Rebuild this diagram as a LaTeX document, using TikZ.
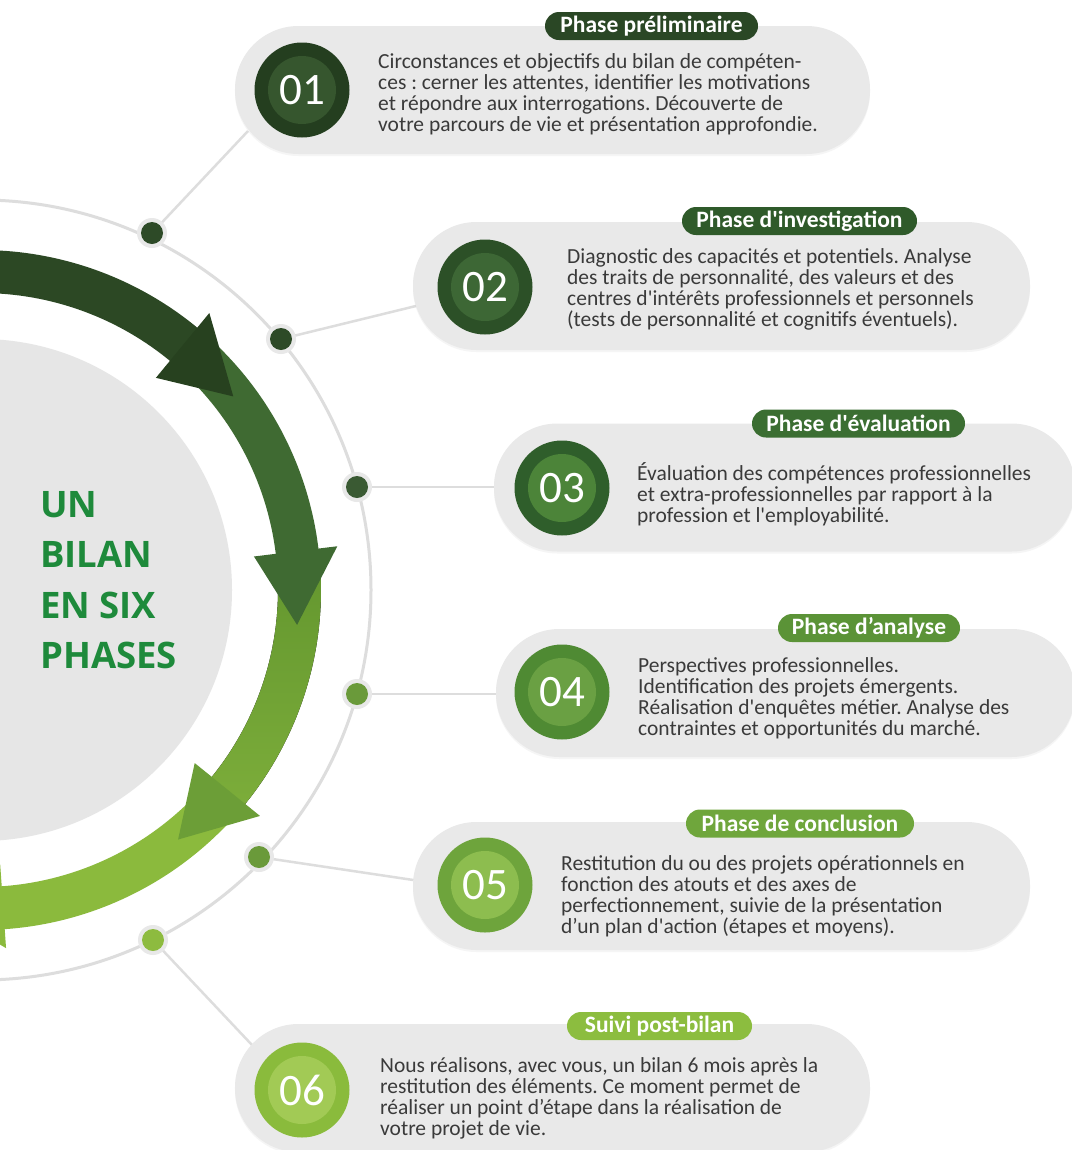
\documentclass[tikz,border=0pt]{standalone}
\usepackage{fontspec}
\setmainfont{Carlito}[Ligatures=TeXOff]
\newfontfamily\titlefont{Open Sans}
\usetikzlibrary{shadows}
\frenchspacing
\definecolor{panelgray}{HTML}{E9E9E9}
\definecolor{ringgray}{HTML}{DDDDDD}
\definecolor{halogray}{HTML}{E8E8E8}
\definecolor{discgray}{HTML}{E6E6E6}
\definecolor{txtgray}{HTML}{3A3A3A}
\definecolor{titlegreen}{HTML}{1E8A3B}
\definecolor{oA}{HTML}{243E1F}\definecolor{iA}{HTML}{36562E}
\definecolor{oB}{HTML}{2C5027}\definecolor{iB}{HTML}{3D6735}
\definecolor{oC}{HTML}{2F5E2B}\definecolor{iC}{HTML}{4C8439}
\definecolor{oD}{HTML}{4F8A33}\definecolor{iD}{HTML}{6AA043}
\definecolor{oE}{HTML}{6EA43C}\definecolor{iE}{HTML}{8DBD4F}
\definecolor{oF}{HTML}{8ABB3C}\definecolor{iF}{HTML}{A2CA55}
\definecolor{bA}{HTML}{2A4725}
\definecolor{bB}{HTML}{2F5A2A}
\definecolor{bC}{HTML}{3B6E32}
\definecolor{bD}{HTML}{5B9337}
\definecolor{bE}{HTML}{6FA63C}
\definecolor{bF}{HTML}{8CBD3F}
\definecolor{dA}{HTML}{2D4A27}
\definecolor{dC}{HTML}{3A5A33}
\definecolor{dD}{HTML}{6A9A3A}
\definecolor{dF}{HTML}{8DBB3F}
\definecolor{arA}{HTML}{2C4824}
\definecolor{ahA}{HTML}{27411F}
\definecolor{arB}{HTML}{3F6A32}
\definecolor{arC1}{HTML}{64972F}
\definecolor{arC2}{HTML}{7CAD3A}
\definecolor{ahC}{HTML}{6C9E37}
\definecolor{arD}{HTML}{8BBA3D}
\begin{document}
\begin{tikzpicture}[x=1bp,y=-1bp,
  panel/.style={rectangle, rounded corners=63.5bp, fill=panelgray, inner sep=0pt, minimum height=128bp,
    drop shadow={shadow xshift=0bp, shadow yshift=-2bp, opacity=0.08}},
  badge/.style={rectangle, rounded corners=14bp, minimum height=28bp, inner sep=0pt, text=white,
    font={\fontsize{23.5bp}{24bp}\selectfont\bfseries}},
  numout/.style={circle, minimum size=95bp, inner sep=0pt},
  numin/.style={circle, minimum size=68bp, inner sep=0pt, text=white, font={\fontsize{45bp}{45bp}\selectfont}},
  body/.style={anchor=west, align=left, inner sep=0pt, text=txtgray, font={\fontsize{21.5bp}{21bp}\selectfont}},
  ttl/.style={anchor=base west, inner sep=0pt, text=titlegreen, font={\titlefont\bfseries\fontsize{36.5bp}{36.5bp}\selectfont}},
  halo/.style={circle, fill=halogray, minimum size=30bp, inner sep=0pt},
  dotc/.style={circle, minimum size=22bp, inner sep=0pt},
  link/.style={draw=ringgray, line width=2.5bp},
]
\useasboundingbox (0,0) rectangle (1072,1150);
\fill[white] (0,0) rectangle (1072,1150);
\clip (0,0) rectangle (1072,1150);

% dot and link-end coordinates
\coordinate (d1) at (152,233);
\coordinate (d2) at (281,339);
\coordinate (d3) at (357,487);
\coordinate (d4) at (357,694);
\coordinate (d5) at (259,857);
\coordinate (d6) at (153,940);
\coordinate (e1) at (248,131);
\coordinate (e2) at (420,305);
\coordinate (e3) at (500,487);
\coordinate (e4) at (500,694);
\coordinate (e5) at (420,881);
\coordinate (e6) at (252,1045);

% central disc, ring and arrow band
\begin{scope}[shift={(-19,590)}]
  \fill[discgray] (0,0) circle[radius=251bp];
  \draw[ringgray, line width=3bp] (0,0) circle[radius=390bp];
  % segment 4
  \fill[arD] plot[domain=42:90,samples=50] (\x:340) -- plot[domain=90:42,samples=50] (\x:297) -- cycle;
  \fill[arD] (86:275) -- (86:359) -- (99:318) -- cycle;
  % segment 3
  \fill[top color=arC1, bottom color=arC2] plot[domain=-4:40,samples=50] (\x:340) -- plot[domain=40:-4,samples=50] (\x:297) -- cycle;
  \fill[ahC] (39:275) -- (39:359) -- (51.7:318) -- cycle;
  % segment 2
  \fill[arB] plot[domain=-47.5:-6,samples=50] (\x:340) -- plot[domain=-6:-47.5,samples=50] (\x:297) -- cycle;
  \fill[arB] (-7:275) -- (-7:359) -- (6.3:318) -- cycle;
  % segment 1
  \fill[arA] plot[domain=-100:-50,samples=50] (\x:340) -- plot[domain=-50:-100,samples=50] (\x:297) -- cycle;
  \fill[ahA] (-50.5:275) -- (-50.5:359) -- (-37.5:318) -- cycle;
\end{scope}

% title
\node[ttl] (u1) at (40,517) {UN};
\node[ttl] (u2) at (40,567) {BILAN};
\node[ttl] (u3) at (40,618) {EN SIX};
\node[ttl] (u4) at (40,668) {PHASES};

% links
\draw[link] (d1) -- (e1);
\draw[link] (d2) -- (e2);
\draw[link] (d3) -- (e3);
\draw[link] (d4) -- (e4);
\draw[link] (d5) -- (e5);
\draw[link] (d6) -- (e6);

% dots
\node[halo] (h1) at (d1) {}; \node[dotc, fill=dA] (dot1) at (d1) {};
\node[halo] (h2) at (d2) {}; \node[dotc, fill=dA] (dot2) at (d2) {};
\node[halo] (h3) at (d3) {}; \node[dotc, fill=dC] (dot3) at (d3) {};
\node[halo] (h4) at (d4) {}; \node[dotc, fill=dD] (dot4) at (d4) {};
\node[halo] (h5) at (d5) {}; \node[dotc, fill=dD] (dot5) at (d5) {};
\node[halo] (h6) at (d6) {}; \node[dotc, fill=dF] (dot6) at (d6) {};

% panels
\node[panel, minimum width=635bp] (p1) at (552.5,90) {};
\node[panel, minimum width=617bp] (p2) at (721.5,286) {};
\node[panel, minimum width=581bp] (p3) at (784.5,487.5) {};
\node[panel, minimum width=579bp] (p4) at (785.5,693) {};
\node[panel, minimum width=617bp] (p5) at (721.5,886) {};
\node[panel, minimum width=635bp] (p6) at (552.5,1088) {};

% badges
\node[badge, fill=bA, minimum width=213bp] (b1) at (651.5,26) {Phase préliminaire};
\node[badge, fill=bB, minimum width=235bp] (b2) at (799.5,221) {Phase d'investigation};
\node[badge, fill=bC, minimum width=213bp] (b3) at (858.5,423.5) {Phase d'évaluation};
\node[badge, fill=bD, minimum width=182bp] (b4) at (869,628) {Phase d’analyse};
\node[badge, fill=bE, minimum width=228bp] (b5) at (800,823.5) {Phase de conclusion};
\node[badge, fill=bF, minimum width=185bp] (b6) at (659.5,1026) {Suivi post-bilan};

% number circles
\node[numout, fill=oA] (c1) at (302,90) {};   \node[numin, fill=iA] (n1) at (c1) {01};
\node[numout, fill=oB] (c2) at (485,287) {};  \node[numin, fill=iB] (n2) at (c2) {02};
\node[numout, fill=oC] (c3) at (562,488) {};  \node[numin, fill=iC] (n3) at (c3) {03};
\node[numout, fill=oD] (c4) at (562,692) {};  \node[numin, fill=iD] (n4) at (c4) {04};
\node[numout, fill=oE] (c5) at (485,885) {};  \node[numin, fill=iE] (n5) at (c5) {05};
\node[numout, fill=oF] (c6) at (302,1090) {}; \node[numin, fill=iF] (n6) at (c6) {06};

% texts
\node[body] (t1) at (378,94.5) {Circonstances et objectifs du bilan de compéten-\\ces : cerner les attentes, identifier les motivations\\et répondre aux interrogations. Découverte de\\votre parcours de vie et présentation approfondie.};
\node[body] (t2) at (567,289) {Diagnostic des capacités et potentiels. Analyse\\des traits de personnalité, des valeurs et des\\centres d'intérêts professionnels et personnels\\(tests de personnalité et cognitifs éventuels).};
\node[body] (t3) at (637,494) {Évaluation des compétences professionnelles\\et extra-professionnelles par rapport à la\\profession et l'employabilité.};
\node[body] (t4) at (638,698) {Perspectives professionnelles.\\Identification des projets émergents.\\Réalisation d'enquêtes métier. Analyse des\\contraintes et opportunités du marché.};
\node[body] (t5) at (561,896) {Restitution du ou des projets opérationnels en\\fonction des atouts et des axes de\\perfectionnement, suivie de la présentation\\d’un plan d'action (étapes et moyens).};
\node[body] (t6) at (380,1098) {Nous réalisons, avec vous, un bilan 6 mois après la\\restitution des éléments. Ce moment permet de\\réaliser un point d’étape dans la réalisation de\\votre projet de vie.};
\end{tikzpicture}
\end{document}
